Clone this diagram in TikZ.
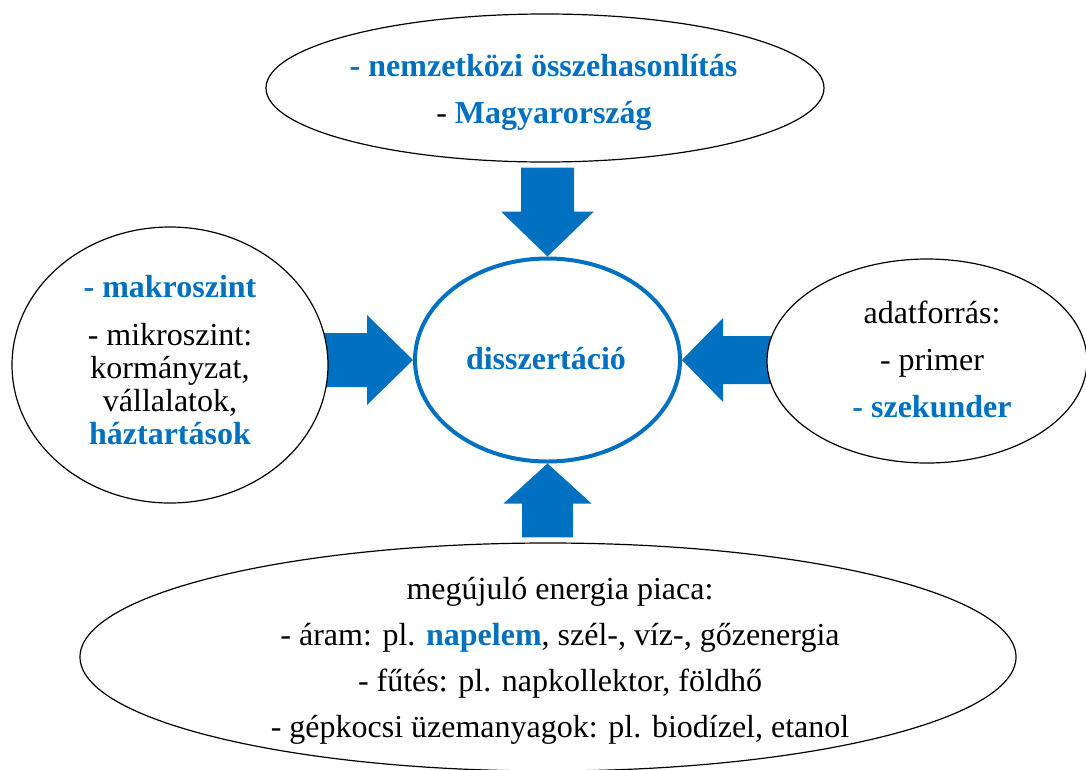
\documentclass[tikz,border=0pt]{standalone}
\usepackage{fontspec}
\setmainfont{Liberation Serif}
\usetikzlibrary{shapes.geometric,calc}
\definecolor{accent}{RGB}{0,112,192}
\pgfdeclarelayer{background}
\pgfsetlayers{background,main}
\begin{document}
\begin{tikzpicture}[x=1pt,y=-1pt,
  bubble/.style={ellipse, draw=black, line width=1.2pt, fill=white, inner sep=0pt},
  hub/.style={ellipse, draw=accent, line width=4pt, fill=white, inner sep=0pt},
  txt/.style={anchor=base, inner sep=0pt, font=\fontsize{32}{38}\selectfont},
  hl/.style={txt, text=accent, font=\fontsize{32}{38}\selectfont\bfseries}]
\useasboundingbox (0,0) rectangle (1086,769);

% ellipses
\node[hub, minimum width=265pt, minimum height=203pt] (c) at (547.5,360) {};
\node[bubble, minimum width=558pt, minimum height=148pt] (top) at (545,88) {};
\node[bubble, minimum width=316pt, minimum height=276pt] (left) at (170,365) {};
\node[bubble, minimum width=320pt, minimum height=204pt] (right) at (927,361) {};
\node[bubble, minimum width=936pt, minimum height=228pt] (bottom) at (548,657) {};

% block arrows pointing at the hub
\begin{pgfonlayer}{background}
  \coordinate (t1) at (c.north);
  \coordinate (s1) at (c.north |- top.south);
  \fill[accent] ($(s1)+(-26.5,5)$) -- ($(t1)+(-26.5,-45)$) -- ($(t1)+(-46.5,-45)$) -- (t1)
    -- ($(t1)+(46.5,-45)$) -- ($(t1)+(26.5,-45)$) -- ($(s1)+(26.5,5)$) -- cycle;

  \coordinate (t2) at (c.west);
  \coordinate (s2) at (left.east |- c.west);
  \fill[accent] ($(s2)+(-6,-27)$) -- ($(t2)+(-46,-27)$) -- ($(t2)+(-46,-45)$) -- (t2)
    -- ($(t2)+(-46,45)$) -- ($(t2)+(-46,27)$) -- ($(s2)+(-6,27)$) -- cycle;

  \coordinate (t3) at (c.east);
  \coordinate (s3) at (right.west |- c.east);
  \fill[accent] ($(s3)+(6,-24)$) -- ($(t3)+(41,-24)$) -- ($(t3)+(41,-42)$) -- (t3)
    -- ($(t3)+(41,42)$) -- ($(t3)+(41,24)$) -- ($(s3)+(6,24)$) -- cycle;

  \coordinate (t4) at (c.south);
  \coordinate (s4) at (c.south |- bottom.north);
  \fill[accent] ($(s4)+(-25.5,-5)$) -- ($(t4)+(-25.5,40)$) -- ($(t4)+(-44,40)$) -- (t4)
    -- ($(t4)+(44,40)$) -- ($(t4)+(25.5,40)$) -- ($(s4)+(25.5,-5)$) -- cycle;
\end{pgfonlayer}

% hub label
\node[hl] (hubtxt) at (546,369) {disszertáció};

% top ellipse
\node[hl] (top1) at (543.5,76) {- nemzetközi összehasonlítás};
\node[txt] (top2) at (544,123) {- \textcolor{accent}{\bfseries Magyarország}};

% left ellipse
\node[hl] (l1) at (170,297) {- makroszint};
\node[txt] (l2) at (170,345) {- mikroszint:};
\node[txt] (l3) at (170,378) {kormányzat,};
\node[txt] (l4) at (170,411) {vállalatok,};
\node[hl] (l5) at (170,444) {háztartások};

% right ellipse
\node[txt] (r1) at (932,323) {adatforrás:};
\node[txt] (r2) at (932,370) {- primer};
\node[hl] (r3) at (932,417) {- szekunder};

% bottom ellipse
\node[txt] (b1) at (560,599) {megújuló energia piaca:};
\node[txt] (b2) at (560,645) {- áram: pl. \textcolor{accent}{\bfseries napelem}, szél-, víz-, gőzenergia};
\node[txt] (b3) at (560,691) {- fűtés: pl. napkollektor, földhő};
\node[txt] (b4) at (560,737) {- gépkocsi üzemanyagok: pl. biodízel, etanol};
\end{tikzpicture}
\end{document}
